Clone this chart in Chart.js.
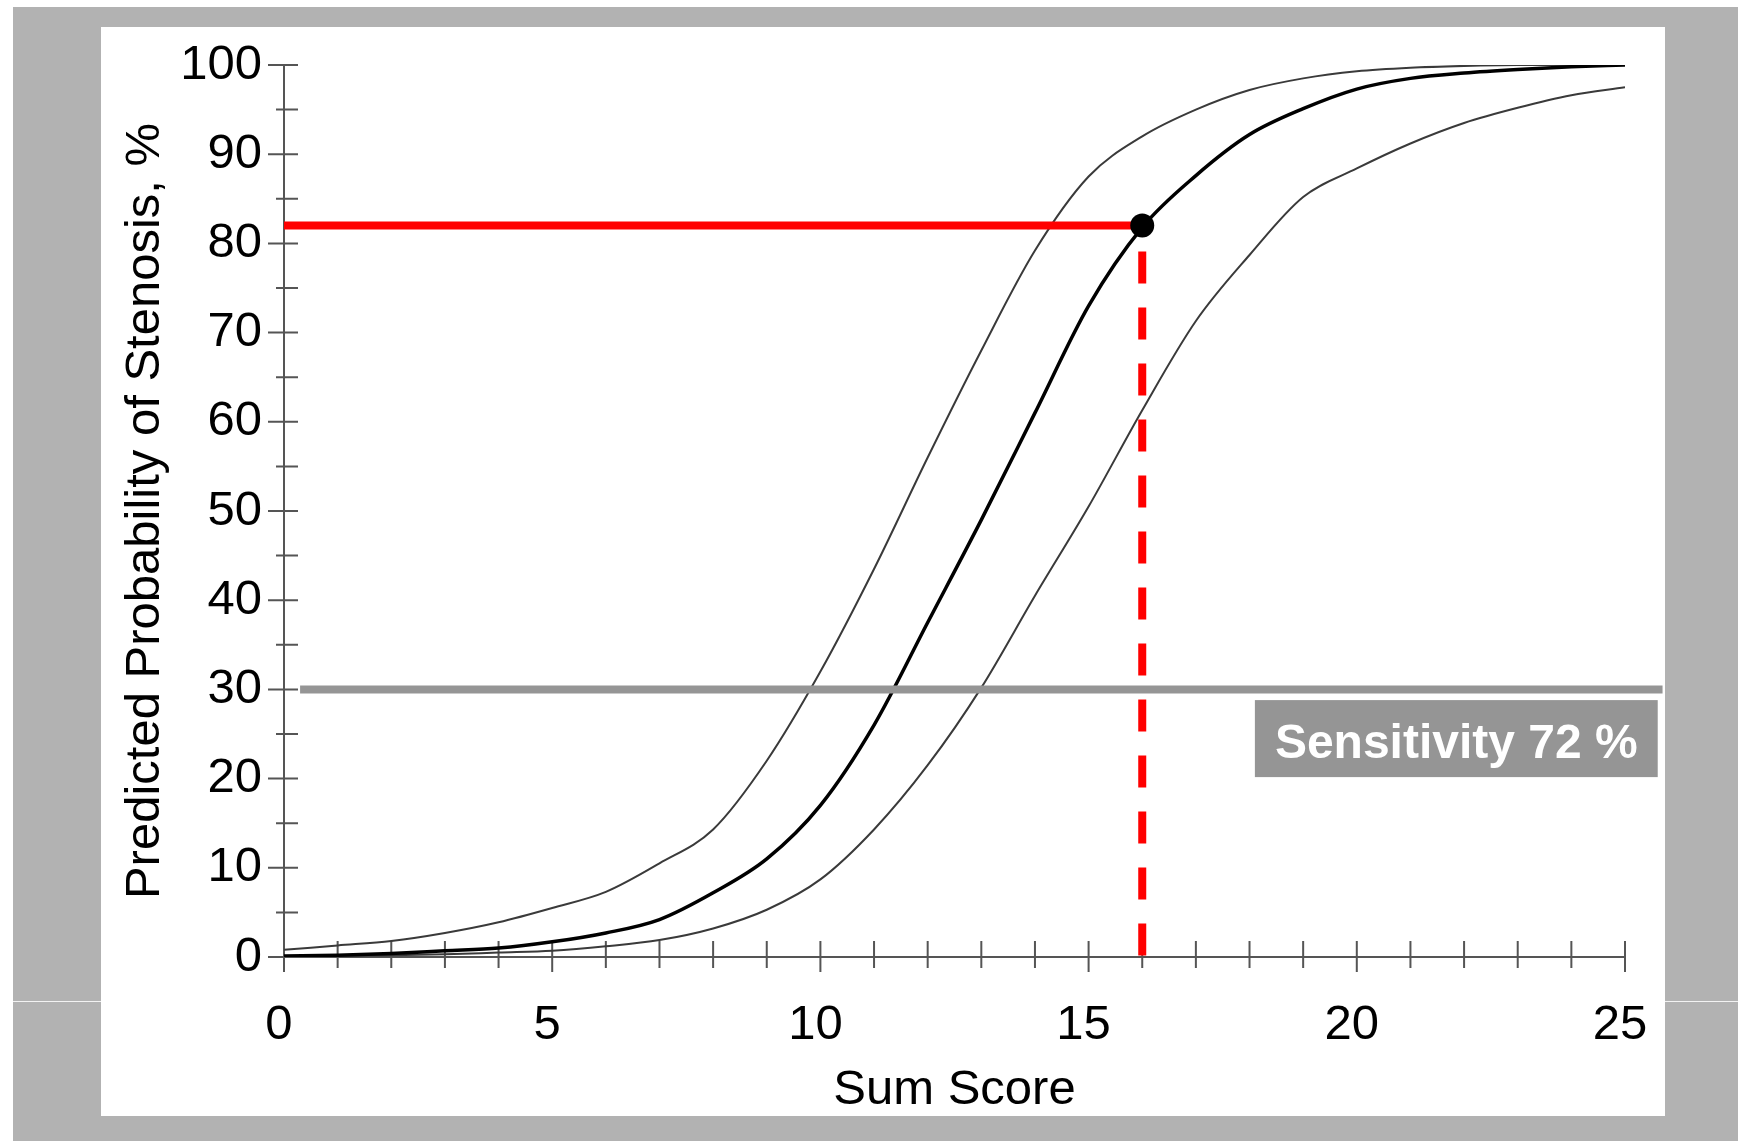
<!DOCTYPE html>
<html>
<head>
<meta charset="utf-8">
<script src="https://cdn.jsdelivr.net/npm/chart.js@4.4.1/dist/chart.umd.min.js"></script>
<style>
  html, body { margin: 0; padding: 0; background: #fff; }
  body { width: 1738px; height: 1141px; position: relative; overflow: hidden; }
  .backdrop { position: absolute; left: 13px; top: 7px; right: 0; bottom: 0; background: #b2b2b2; }
  .seam { position: absolute; left: 13px; right: 0; top: 1001px; height: 1px; background: #f2f2f2; }
  .panel { position: absolute; left: 101px; top: 27px; width: 1564px; height: 1089px; background: #fff; }
  .chart-box { position: absolute; left: 0; top: 0; width: 1738px; height: 1141px; }
</style>
</head>
<body>
<div class="backdrop"></div>
<div class="seam"></div>
<div class="panel"></div>
<div class="chart-box"><canvas id="chart"></canvas></div>

<script>
/* ===============================
   DATA
================================ */

const sumScores = [0, 1, 2, 3, 4, 5, 6, 7, 8, 9, 10, 11, 12, 13, 14, 15, 16, 17, 18, 19, 20, 21, 22, 23, 24, 25];

const predicted = [0.1, 0.2, 0.4, 0.7, 1.0, 1.7, 2.7, 4.2, 7.2, 11, 17, 26, 37.5, 49, 61, 73, 81.8, 87.6, 92.2, 95.1, 97.3, 98.5, 99.1, 99.5, 99.8, 100];
const upperLimit = [0.8, 1.3, 1.8, 2.7, 3.9, 5.5, 7.3, 10.5, 14.3, 22, 32, 43.5, 56, 68, 79.2, 87.5, 92, 95, 97.2, 98.5, 99.3, 99.7, 99.9, 100, 100, 100];
const lowerLimit = [0.1, 0.15, 0.2, 0.3, 0.5, 0.7, 1.2, 1.9, 3.2, 5.3, 8.7, 14.3, 21.5, 30.2, 40.5, 50.5, 61.3, 71.3, 78.7, 85.2, 88.4, 91.2, 93.5, 95.2, 96.6, 97.5];

const xTickLabels = ["0", "5", "10", "15", "20", "25"];
const yTickLabels = ["0", "10", "20", "30", "40", "50", "60", "70", "80", "90", "100"];

const cutoffScore = [16];
const cutoffProbability = [82];
const thresholdScores = [0.3, 25.7];
const thresholdProbability = [30];
const sensitivityText = "Sensitivity 72 %";

const FONT = "'Liberation Sans', Arial, Helvetica, sans-serif";

/* ===============================
   PLUGINS
================================ */

// axis lines with ticks that cross the axis, like the original figure
const crossAxes = {
  id: "crossAxes",
  beforeDatasetsDraw(chart) {
    const { ctx, scales: { x, y } } = chart;
    const x0 = x.getPixelForValue(x.min);
    const y0 = y.getPixelForValue(y.min);

    ctx.save();
    ctx.strokeStyle = "#555";
    ctx.lineWidth = 2;
    ctx.beginPath();
    ctx.moveTo(x0, y.getPixelForValue(y.max));
    ctx.lineTo(x0, y0 + 15);
    ctx.moveTo(x0, y0);
    ctx.lineTo(x.getPixelForValue(x.max), y0);

    for (let v = y.min; v <= y.max; v += 5) {
      const py = y.getPixelForValue(v);
      ctx.moveTo(x0 - (v % 10 === 0 ? 16 : 8), py);
      ctx.lineTo(x0 + 14, py);
    }
    for (let s = x.min; s <= x.max; s += 1) {
      const px = x.getPixelForValue(s);
      ctx.moveTo(px, y0 - 16);
      ctx.lineTo(px, y0 + (s % 5 === 0 ? 15 : 11));
    }
    ctx.stroke();
    ctx.restore();
  }
};

const sensitivityLabel = {
  id: "sensitivityLabel",
  afterDatasetsDraw(chart, args, opts) {
    const { ctx, scales: { x, y } } = chart;
    const left = x.getPixelForValue(opts.x);
    const top = y.getPixelForValue(opts.y);

    ctx.save();
    ctx.font = "bold 48px " + FONT;
    const w = ctx.measureText(opts.text).width + 40;
    ctx.fillStyle = "#959595";
    ctx.fillRect(left, top, w, 77);
    ctx.fillStyle = "#ffffff";
    ctx.textBaseline = "alphabetic";
    ctx.fillText(opts.text, left + 20, top + 58);
    ctx.restore();
  }
};

/* ===============================
   CHART
================================ */

function series(xs, ys) {
  return xs.map((s, i) => ({ x: s, y: ys[i] }));
}

const curveStyle = {
  pointRadius: 0,
  fill: false,
  cubicInterpolationMode: "monotone"
};

new Chart(document.getElementById("chart"), {
  type: "line",
  data: {
    datasets: [
      {
        label: "cutoff point",
        data: series(cutoffScore, cutoffProbability),
        showLine: false,
        pointRadius: 12,
        pointBackgroundColor: "#000",
        pointBorderWidth: 0
      },
      {
        label: "cutoff probability",
        data: [{ x: sumScores[0], y: cutoffProbability[0] }, { x: cutoffScore[0], y: cutoffProbability[0] }],
        borderColor: "#ff0000",
        borderWidth: 8,
        borderCapStyle: "butt",
        pointRadius: 0
      },
      {
        label: "cutoff score",
        data: [{ x: cutoffScore[0], y: cutoffProbability[0] }, { x: cutoffScore[0], y: 0 }],
        borderColor: "#ff0000",
        borderWidth: 8,
        borderDash: [32, 24],
        borderDashOffset: 30,
        borderCapStyle: "butt",
        pointRadius: 0
      },
      {
        label: "threshold",
        data: thresholdScores.map(s => ({ x: s, y: thresholdProbability[0] })),
        borderColor: "#959595",
        borderWidth: 8,
        borderCapStyle: "butt",
        pointRadius: 0,
        clip: false
      },
      {
        label: "predicted",
        data: series(sumScores, predicted),
        borderColor: "#000",
        borderWidth: 3.5,
        ...curveStyle
      },
      {
        label: "upper",
        data: series(sumScores, upperLimit),
        borderColor: "#3a3a3a",
        borderWidth: 2,
        ...curveStyle
      },
      {
        label: "lower",
        data: series(sumScores, lowerLimit),
        borderColor: "#3a3a3a",
        borderWidth: 2,
        ...curveStyle
      }
    ]
  },
  options: {
    responsive: true,
    maintainAspectRatio: false,
    animation: false,
    layout: { padding: { left: 0, right: 113, top: 65, bottom: 0 } },
    plugins: {
      legend: { display: false },
      tooltip: { enabled: false },
      sensitivityLabel: { text: sensitivityText, x: 18.1, y: 28.8 }
    },
    scales: {
      x: {
        type: "linear",
        min: 0,
        max: 25,
        afterFit(scale) { scale.height = 184; },
        afterBuildTicks(scale) { scale.ticks = xTickLabels.map(t => ({ value: Number(t) })); },
        grid: { display: false, drawTicks: false },
        border: { display: false },
        ticks: {
          padding: 39,
          labelOffset: -5,
          color: "#000",
          maxRotation: 0,
          autoSkip: false,
          font: { size: 49, family: FONT }
        },
        title: {
          display: true,
          text: "Sum Score",
          color: "#000",
          font: { size: 49, family: FONT },
          padding: { top: 0, bottom: 21 }
        }
      },
      y: {
        type: "linear",
        min: 0,
        max: 100,
        afterFit(scale) { scale.width = 284; },
        afterBuildTicks(scale) { scale.ticks = yTickLabels.map(t => ({ value: Number(t) })); },
        grid: { display: false, drawTicks: false },
        border: { display: false },
        ticks: {
          padding: 22,
          color: "#000",
          autoSkip: false,
          font: { size: 49, family: FONT }
        },
        title: {
          display: true,
          text: "Predicted Probability of Stenosis, %",
          color: "#000",
          font: { size: 49, family: FONT },
          padding: { top: 116, bottom: 0 }
        }
      }
    }
  },
  plugins: [crossAxes, sensitivityLabel]
});
</script>
</body>
</html>
